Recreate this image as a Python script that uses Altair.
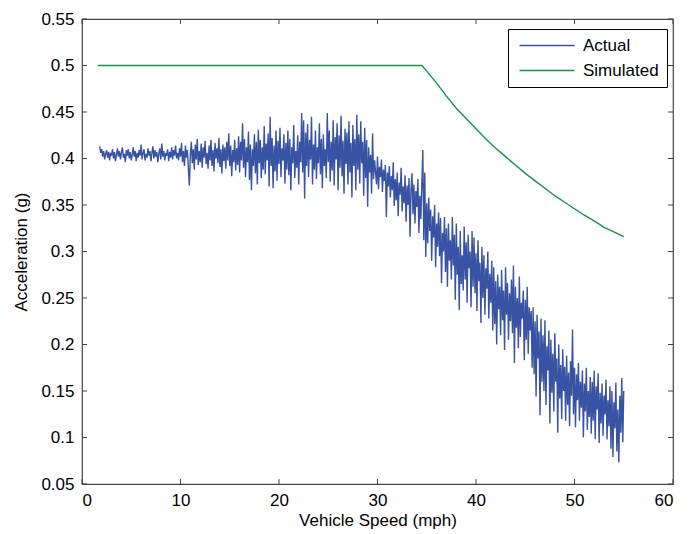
import altair as alt
import pandas as pd

# ---- data ----
speed_start = 1.8   # mph, first sample of the measured trace
speed_step = 0.1    # mph between samples
actual_accel = [
    0.413, 0.406, 0.410, 0.402, 0.408, 0.399, 0.405, 0.409, 0.401, 0.407,
    0.398, 0.406, 0.403, 0.410, 0.400, 0.407, 0.397, 0.404, 0.411, 0.402,
    0.408, 0.399, 0.406, 0.412, 0.401, 0.405, 0.396, 0.409, 0.403, 0.410,
    0.400, 0.407, 0.398, 0.404, 0.412, 0.402, 0.408, 0.397, 0.406, 0.401,
    0.409, 0.403, 0.415, 0.399, 0.406, 0.410, 0.398, 0.405, 0.401, 0.411,
    0.403, 0.408, 0.397, 0.406, 0.413, 0.400, 0.409, 0.402, 0.407, 0.396,
    0.405, 0.411, 0.399, 0.416, 0.402, 0.408, 0.398, 0.406, 0.403, 0.410,
    0.397, 0.407, 0.401, 0.412, 0.399, 0.409, 0.403, 0.414, 0.400, 0.406,
    0.398, 0.411, 0.402, 0.417, 0.396, 0.408, 0.392, 0.414, 0.401, 0.409,
    0.390, 0.371, 0.404, 0.418, 0.395, 0.410, 0.388, 0.415, 0.399, 0.421,
    0.393, 0.408, 0.396, 0.416, 0.390, 0.412, 0.401, 0.419, 0.394, 0.406,
    0.389, 0.414, 0.398, 0.420, 0.392, 0.409, 0.386, 0.417, 0.400, 0.411,
    0.395, 0.422, 0.391, 0.410, 0.384, 0.415, 0.397, 0.412, 0.389, 0.418,
    0.398, 0.427, 0.392, 0.414, 0.381, 0.409, 0.396, 0.420, 0.387, 0.411,
    0.393, 0.424, 0.385, 0.418, 0.398, 0.438, 0.390, 0.421, 0.380, 0.412,
    0.396, 0.429, 0.377, 0.415, 0.366, 0.410, 0.392, 0.426, 0.384, 0.418,
    0.372, 0.431, 0.395, 0.420, 0.379, 0.412, 0.388, 0.435, 0.383, 0.416,
    0.398, 0.427, 0.370, 0.445, 0.392, 0.422, 0.368, 0.414, 0.386, 0.430,
    0.376, 0.419, 0.394, 0.433, 0.380, 0.411, 0.398, 0.426, 0.373, 0.417,
    0.388, 0.430, 0.382, 0.421, 0.366, 0.412, 0.395, 0.436, 0.379, 0.408,
    0.390, 0.425, 0.372, 0.418, 0.396, 0.449, 0.385, 0.441, 0.357, 0.428,
    0.392, 0.437, 0.380, 0.420, 0.399, 0.445, 0.372, 0.415, 0.388, 0.430,
    0.378, 0.412, 0.395, 0.438, 0.383, 0.421, 0.368, 0.426, 0.392, 0.410,
    0.379, 0.449, 0.396, 0.430, 0.375, 0.418, 0.387, 0.441, 0.371, 0.423,
    0.399, 0.438, 0.366, 0.425, 0.390, 0.446, 0.381, 0.419, 0.362, 0.432,
    0.394, 0.428, 0.372, 0.440, 0.385, 0.417, 0.358, 0.436, 0.392, 0.421,
    0.366, 0.447, 0.388, 0.426, 0.373, 0.440, 0.395, 0.418, 0.360, 0.433,
    0.379, 0.420, 0.348, 0.412, 0.385, 0.404, 0.362, 0.427, 0.378, 0.398,
    0.386, 0.372, 0.402, 0.367, 0.391, 0.380, 0.399, 0.364, 0.388, 0.376,
    0.393, 0.337, 0.385, 0.370, 0.392, 0.358, 0.381, 0.366, 0.396, 0.349,
    0.378, 0.355, 0.385, 0.338, 0.374, 0.361, 0.390, 0.343, 0.370, 0.352,
    0.382, 0.332, 0.371, 0.350, 0.379, 0.316, 0.366, 0.384, 0.340, 0.372,
    0.330, 0.365, 0.348, 0.378, 0.320, 0.360, 0.335, 0.372, 0.409, 0.312,
    0.385, 0.294, 0.352, 0.309, 0.358, 0.322, 0.345, 0.290, 0.338, 0.315,
    0.350, 0.283, 0.330, 0.305, 0.342, 0.295, 0.336, 0.266, 0.320, 0.300,
    0.337, 0.278, 0.325, 0.262, 0.330, 0.290, 0.312, 0.270, 0.337, 0.285,
    0.318, 0.248, 0.330, 0.275, 0.305, 0.237, 0.322, 0.265, 0.296, 0.258,
    0.327, 0.270, 0.310, 0.245, 0.318, 0.282, 0.300, 0.240, 0.322, 0.262,
    0.315, 0.255, 0.298, 0.236, 0.312, 0.268, 0.288, 0.223, 0.305, 0.250,
    0.296, 0.232, 0.282, 0.260, 0.300, 0.228, 0.276, 0.245, 0.290, 0.215,
    0.283, 0.222, 0.268, 0.200, 0.275, 0.238, 0.262, 0.210, 0.280, 0.226,
    0.258, 0.194, 0.283, 0.232, 0.266, 0.205, 0.255, 0.225, 0.270, 0.212,
    0.285, 0.180, 0.262, 0.218, 0.250, 0.196, 0.273, 0.208, 0.245, 0.228,
    0.258, 0.183, 0.248, 0.205, 0.262, 0.190, 0.240, 0.215, 0.236, 0.175,
    0.240, 0.168, 0.225, 0.144, 0.232, 0.185, 0.214, 0.124, 0.228, 0.160,
    0.210, 0.150, 0.226, 0.135, 0.198, 0.172, 0.215, 0.115, 0.205, 0.148,
    0.190, 0.128, 0.212, 0.160, 0.185, 0.105, 0.200, 0.142, 0.178, 0.120,
    0.195, 0.150, 0.176, 0.118, 0.188, 0.135, 0.170, 0.112, 0.182, 0.145,
    0.216, 0.125, 0.175, 0.111, 0.168, 0.140, 0.180, 0.118, 0.160, 0.132,
    0.172, 0.100, 0.158, 0.128, 0.175, 0.108, 0.150, 0.122, 0.165, 0.104,
    0.160, 0.118, 0.172, 0.098, 0.155, 0.130, 0.169, 0.094, 0.148, 0.115,
    0.158, 0.102, 0.145, 0.125, 0.162, 0.098, 0.140, 0.112, 0.155, 0.088,
    0.150, 0.079, 0.138, 0.110, 0.159, 0.085, 0.130, 0.073, 0.145, 0.105,
    0.164, 0.095, 0.150,
]
sim_speed = [1.6, 34.5, 35, 36, 37, 38, 39, 40, 41, 42, 43, 44, 45, 46, 47,
             48, 49, 50, 51, 52, 53, 54, 55]
sim_accel = [0.5, 0.5, 0.494, 0.481, 0.467, 0.454, 0.443, 0.432, 0.421, 0.411,
             0.402, 0.393, 0.384, 0.376, 0.368, 0.360, 0.353, 0.346, 0.339,
             0.333, 0.326, 0.321, 0.316]
series_names = ["Actual", "Simulated"]
x_ticks = [0, 10, 20, 30, 40, 50, 60]
y_ticks = [0.05, 0.1, 0.15, 0.2, 0.25, 0.3, 0.35, 0.4, 0.45, 0.5, 0.55]

# ---- styling ----
BLUE = "#3953A4"
GREEN = "#11934B"
AXIS_COLOR = "#444444"
FONT = "Liberation Sans"
W, H = 591, 465
TICK = 5

actual_speed = [round(speed_start + speed_step * i, 2) for i in range(len(actual_accel))]
df = pd.DataFrame({
    "Speed": actual_speed + sim_speed,
    "Accel": actual_accel + sim_accel,
    "Series": [series_names[0]] * len(actual_accel) + [series_names[1]] * len(sim_accel),
})

x_scale = alt.Scale(domain=[0, 60], nice=False, zero=False)
y_scale = alt.Scale(domain=[0.05, 0.55], nice=False, zero=False)

lines = alt.Chart(df).mark_line(strokeWidth=1.4).encode(
    x=alt.X("Speed:Q", scale=x_scale,
            axis=alt.Axis(values=x_ticks, title="Vehicle Speed (mph)", format="d",
                          labelPadding=8, titlePadding=4)),
    y=alt.Y("Accel:Q", scale=y_scale,
            axis=alt.Axis(values=y_ticks, title="Acceleration (g)", format=".2~f",
                          labelPadding=8, titlePadding=10)),
    color=alt.Color("Series:N",
                    scale=alt.Scale(domain=series_names, range=[BLUE, GREEN]),
                    legend=alt.Legend(title=None, orient="none", legendX=426, legendY=10,
                                      fillColor="white", strokeColor="#000000",
                                      padding=8, symbolType="M-1.25,0H12.5", symbolSize=64,
                                      symbolStrokeWidth=1.3, labelFont=FONT,
                                      labelFontSize=17, labelColor="#000000",
                                      labelOffset=50, rowPadding=7, cornerRadius=0)),
)

ytick_df = pd.DataFrame({"Accel": y_ticks})
xtick_df = pd.DataFrame({"Speed": x_ticks})

y_left = alt.Chart(ytick_df).mark_rule(color=AXIS_COLOR).encode(
    y=alt.Y("Accel:Q", scale=y_scale), x=alt.value(0), x2=alt.value(TICK))
y_right = alt.Chart(ytick_df).mark_rule(color=AXIS_COLOR).encode(
    y=alt.Y("Accel:Q", scale=y_scale), x=alt.value(W - TICK), x2=alt.value(W))
x_bottom = alt.Chart(xtick_df).mark_rule(color=AXIS_COLOR).encode(
    x=alt.X("Speed:Q", scale=x_scale), y=alt.value(H), y2=alt.value(H - TICK))
x_top = alt.Chart(xtick_df).mark_rule(color=AXIS_COLOR).encode(
    x=alt.X("Speed:Q", scale=x_scale), y=alt.value(0), y2=alt.value(TICK))

chart = alt.layer(lines, y_left, y_right, x_bottom, x_top).properties(
    width=W, height=H,
    autosize=alt.AutoSizeParams(type="none"),
    padding={"left": 74, "top": 11, "right": 12, "bottom": 50},
    background="white",
).configure_view(
    stroke=AXIS_COLOR, strokeWidth=1.2,
).configure_axis(
    grid=False, domain=False, ticks=False,
    labelFont=FONT, labelFontSize=17, labelColor="#000000",
    titleFont=FONT, titleFontSize=17, titleFontWeight="normal", titleColor="#000000",
)

chart.save("out.html", embed_options={"renderer": "svg", "actions": False})
